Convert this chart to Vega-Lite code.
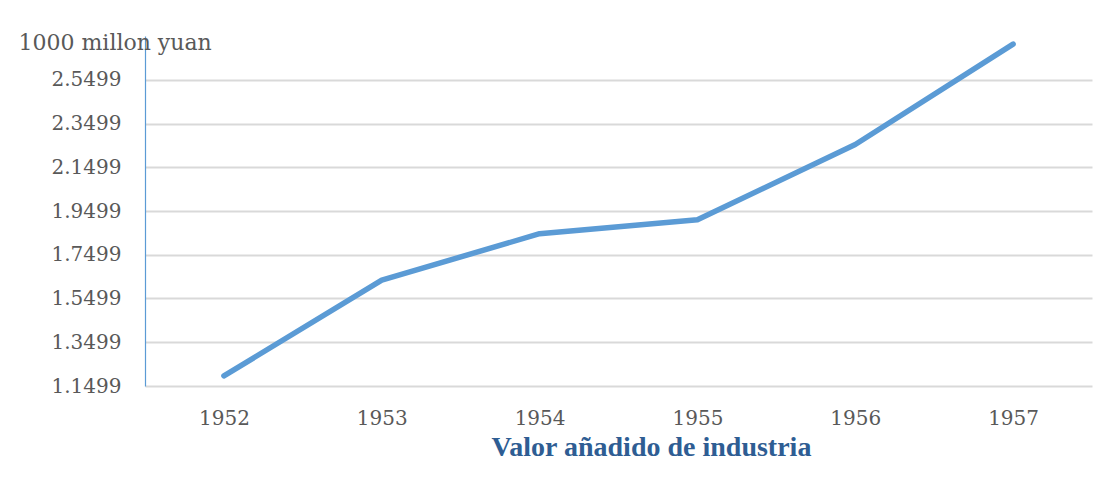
{
  "$schema": "https://vega.github.io/schema/vega-lite/v6.json",
  "autosize": {"type": "none"},
  "padding": {"left": 145, "top": 36, "right": 28, "bottom": 102},
  "width": 947,
  "height": 350,
  "background": "white",
  "config": {"view": {"stroke": null}},
  "data": {
    "values": [
      {"year": "1952", "value": 1.196},
      {"year": "1953", "value": 1.634},
      {"year": "1954", "value": 1.846},
      {"year": "1955", "value": 1.910},
      {"year": "1956", "value": 2.254},
      {"year": "1957", "value": 2.713}
    ]
  },
  "mark": {"type": "line", "color": "#5B9BD5", "strokeWidth": 5.5, "strokeCap": "round", "strokeJoin": "round", "clip": false},
  "encoding": {
    "x": {
      "field": "year", "type": "ordinal",
      "scale": {"type": "point", "padding": 0.5},
      "axis": {
        "title": "Valor añadido de industria",
        "labelAngle": 0,
        "labelFont": "DejaVu Serif", "labelFontSize": 20, "labelColor": "#595959",
        "labelPadding": 22, "ticks": false, "domain": false, "grid": false,
        "titleFont": "Liberation Serif", "titleFontSize": 28, "titleFontWeight": "bold", "titleColor": "#2E5D93",
        "titleX": 506, "titleY": 69, "titleBaseline": "alphabetic", "titleAlign": "center"
      }
    },
    "y": {
      "field": "value", "type": "quantitative",
      "scale": {"domain": [1.1499, 2.7499], "nice": false, "zero": false},
      "axis": {
        "values": [1.1499, 1.3499, 1.5499, 1.7499, 1.9499, 2.1499, 2.3499, 2.5499],
        "format": ".4f",
        "labelFont": "DejaVu Serif", "labelFontSize": 20, "labelColor": "#595959",
        "labelPadding": 24, "ticks": false,
        "domain": true, "domainColor": "#5B9BD5", "domainWidth": 1.2,
        "grid": true, "gridColor": "#D9D9D9", "gridWidth": 1.8,
        "title": "1000 millon yuan", "titleAngle": 0, "titleAlign": "left", "titleBaseline": "alphabetic",
        "titleX": -127, "titleY": 13,
        "titleFont": "DejaVu Serif", "titleFontSize": 22, "titleFontWeight": "normal", "titleColor": "#595959"
      }
    }
  }
}
